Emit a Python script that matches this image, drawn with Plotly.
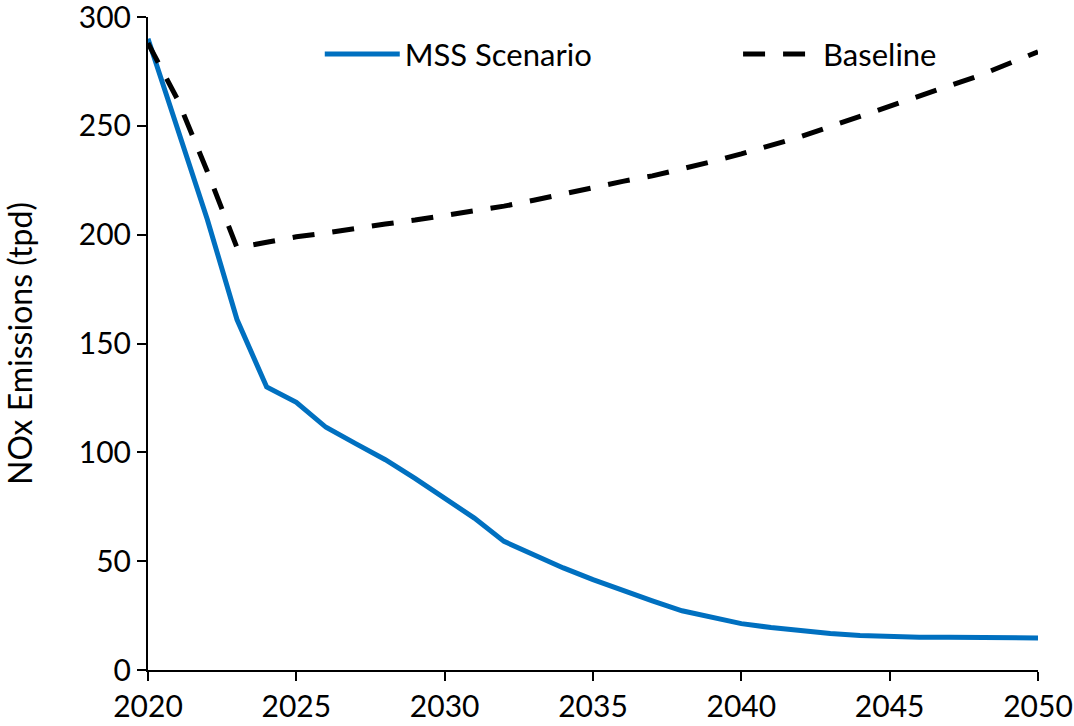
import plotly.graph_objects as go

years = list(range(2020, 2051))
mss = [290, 249, 207, 161, 130, 123, 111.5, 104, 96.6, 88, 79, 69.8, 59.1, 53, 46.9, 41.5,
       36.5, 31.8, 27.2, 24.2, 21.3, 19.5, 18.0, 16.8, 15.8, 15.3, 15.1, 15.0, 14.9, 14.8, 14.7]
baseline = [288, 262, 229, 194, 196.5, 199, 200.8, 203, 204.9, 206.7, 208.8, 210.8, 213.1, 215.8,
            218.8, 222, 224.5, 227, 230, 233.5, 237.1, 241, 245, 249.7, 254.3, 259, 263.3,
            268.5, 273, 278.5, 284]
x_ticks = [2020, 2025, 2030, 2035, 2040, 2045, 2050]
y_ticks = [0, 50, 100, 150, 200, 250, 300]

FONT = "Lato"

fig = go.Figure()
fig.add_trace(go.Scatter(x=years, y=mss, mode="lines", name="MSS Scenario",
                         line=dict(color="#0070C0", width=5), legend="legend"))
fig.add_trace(go.Scatter(x=years, y=baseline, mode="lines", name="Baseline",
                         line=dict(color="black", width=5, dash="22px,18px"), legend="legend2"))

leg_common = dict(orientation="h", yanchor="top", y=0.984, xanchor="left",
                  bgcolor="rgba(0,0,0,0)", font=dict(family=FONT, size=31, color="black"),
                  itemwidth=75)

fig.update_layout(
    width=1074, height=726,
    margin=dict(l=148, r=36, t=17, b=56, autoexpand=False),
    paper_bgcolor="white", plot_bgcolor="white",
    font=dict(family=FONT, size=30, color="black"),
    showlegend=True,
    legend=dict(x=0.193, **leg_common),
    legend2=dict(x=0.663, **leg_common),
    xaxis=dict(range=[2020, 2050], tickvals=x_ticks, automargin=False,
               ticklabeloverflow="allow",
               showgrid=False, zeroline=False, showline=True, linecolor="black", linewidth=2,
               ticks="outside", ticklen=9, tickwidth=2, tickcolor="black",
               tickfont=dict(size=30)),
    yaxis=dict(range=[0, 300], tickvals=y_ticks, automargin=False,
               ticklabeloverflow="allow",
               showgrid=False, zeroline=False, showline=True, linecolor="black", linewidth=2,
               ticks="outside", ticklen=9, tickwidth=2, tickcolor="black",
               tickfont=dict(size=30),
               title=dict(text="NOx Emissions (tpd)", font=dict(size=32), standoff=42)),
)

fig.write_html("out.html", config={"displayModeBar": False},
               post_script="document.body.style.margin='0';document.body.style.overflow='hidden';")
